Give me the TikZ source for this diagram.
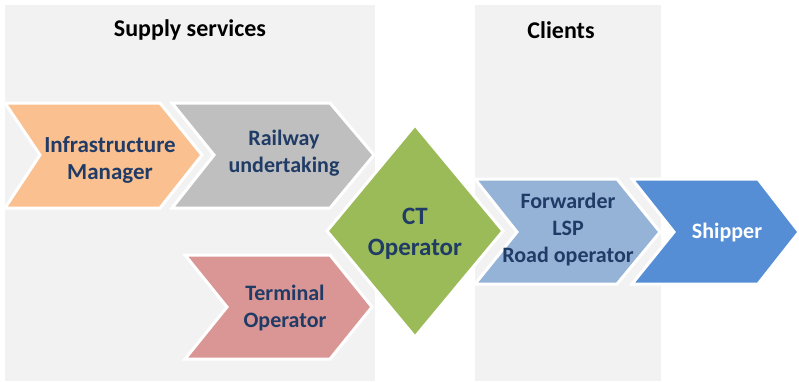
\documentclass[tikz,border=0pt]{standalone}
\usepackage{fontspec}
\setmainfont{Carlito}
\usepackage{xcolor}
\definecolor{panelgray}{HTML}{F2F2F2}
\definecolor{infracol}{HTML}{FAC090}
\definecolor{railcol}{HTML}{BFBFBF}
\definecolor{termcol}{HTML}{D99694}
\definecolor{ctcol}{HTML}{9BBB59}
\definecolor{fwdcol}{HTML}{95B3D7}
\definecolor{shipcol}{HTML}{558ED5}
\definecolor{navytext}{HTML}{1F3B66}

\begin{document}
\begin{tikzpicture}[x=1pt, y=-1pt,
    panel/.style={fill=panelgray},
    chev/.style={draw=white, line width=3pt, line join=miter},
    lbl/.style={font=\fontsize{22}{27}\selectfont\bfseries, text=navytext, align=center},
    head/.style={font=\fontsize{24}{29}\selectfont\bfseries, text=black}]
    \useasboundingbox (0,0) rectangle (799,381);
    % grey columns
    \fill[panel] (5,5) rectangle (375,381);
    \fill[panel] (475,5) rectangle (661,381);
    \node[head] (supply) at (190,30) {Supply services};
    \node[head] (clients) at (561,30) {Clients};
    % supply chevrons
    \draw[chev, fill=infracol] (5,103) -- (160,103) -- (202,155) -- (160,208) -- (5,208) -- (40,155) -- cycle;
    \draw[chev, fill=railcol] (172,103) -- (330,103) -- (374,155) -- (330,208) -- (172,208) -- (214,155) -- cycle;
    \draw[chev, fill=termcol] (185,255) -- (330,255) -- (372,307) -- (330,359) -- (185,359) -- (227,307) -- cycle;
    % client chevrons
    \draw[chev, fill=fwdcol] (475,179) -- (617,179) -- (660,232) -- (617,284) -- (475,284) -- (517,232) -- cycle;
    \draw[chev, fill=shipcol] (632,179) -- (758,179) -- (799,232) -- (758,284) -- (632,284) -- (674,232) -- cycle;
    % CT operator
    \draw[chev, fill=ctcol] (415,125) -- (503,231) -- (415,337) -- (327,231) -- cycle;
    \node[lbl, font=\fontsize{23}{27}\selectfont\bfseries] (infra) at (110,160) {Infrastructure\\Manager};
    \node[lbl] (rail) at (284,153) {Railway\\undertaking};
    \node[lbl] (term) at (285,308) {Terminal\\Operator};
    \node[lbl, font=\fontsize{25}{31}\selectfont\bfseries] (ct) at (415,234) {CT\\Operator};
    \node[lbl] (fwd) at (568,230) {Forwarder\\LSP\\Road operator};
    \node[lbl, text=white] (ship) at (727,233) {Shipper};
\end{tikzpicture}
\end{document}
